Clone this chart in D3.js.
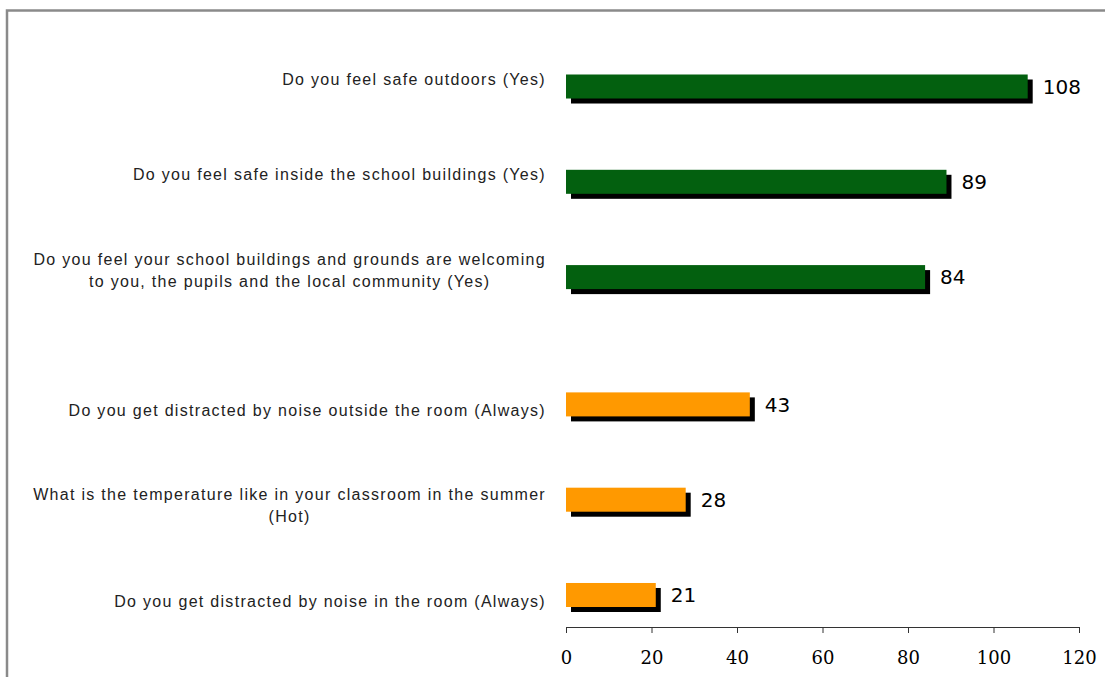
<!DOCTYPE html>
<html>
<head>
<meta charset="utf-8">
<script src="https://cdn.jsdelivr.net/npm/d3@7"></script>
<style>
  html, body { margin: 0; padding: 0; background: #fff; }
  svg { display: block; }
</style>
</head>
<body>
<svg id="chart" width="1105" height="677"></svg>
<script>
// Survey questions (line breaks mark where long labels wrap)
const categories = [
  "Do you feel safe outdoors (Yes)",
  "Do you feel safe inside the school buildings (Yes)",
  "Do you feel your school buildings and grounds are welcoming\nto you, the pupils and the local community (Yes)",
  "Do you get distracted by noise outside the room (Always)",
  "What is the temperature like in your classroom in the summer\n(Hot)",
  "Do you get distracted by noise in the room (Always)"
];
// Number of pupils giving the stated answer
const values = [108, 89, 84, 43, 28, 21];
// 0 = positive aspects, 1 = problems
const groups = [0, 0, 0, 1, 1, 1];
const groupColors = ["#03600F", "#FF9900"];
const xTicks = [0, 20, 40, 60, 80, 100, 120];

const svg = d3.select("#chart");
const W = 1105, H = 677;

// Frame (top and left edges)
svg.append("path")
  .attr("d", `M7,${H} L7,10.5 L${W},10.5`)
  .attr("fill", "none")
  .attr("stroke", "#8a8a8a")
  .attr("stroke-width", 2.5);

const x = d3.scaleLinear().domain([0, 120]).range([566, 1079]);

const groupGap = 32;
const y = d3.scaleBand()
  .domain(categories)
  .range([74.5, 575])
  .paddingInner(0.748)
  .paddingOuter(0);

const bw = y.bandwidth();
const barTop = (c, i) => y(c) + (groups[i] ? groupGap : 0);
const labelShift = [-7, 6];
const shadow = 5;

const data = categories.map((c, i) => ({ c, v: values[i], g: groups[i], i }));

// Drop shadows
svg.append("g").selectAll("rect")
  .data(data).join("rect")
  .attr("x", x(0) + shadow)
  .attr("y", d => barTop(d.c, d.i) + shadow)
  .attr("width", d => x(d.v) - x(0))
  .attr("height", bw)
  .attr("fill", "#000");

// Bars
svg.append("g").selectAll("rect")
  .data(data).join("rect")
  .attr("x", x(0))
  .attr("y", d => barTop(d.c, d.i))
  .attr("width", d => x(d.v) - x(0))
  .attr("height", bw)
  .attr("fill", d => groupColors[d.g]);

// Value labels
svg.append("g").selectAll("text")
  .data(data).join("text")
  .attr("x", d => x(d.v) + shadow + 10)
  .attr("y", d => barTop(d.c, d.i) + bw / 2)
  .attr("dy", "0.36em")
  .attr("font-family", "'DejaVu Sans', Verdana, sans-serif")
  .attr("font-size", 20)
  .attr("fill", "#000")
  .text(d => d.v);

// Category labels: centred block whose right edge sits left of the axis
const labelRight = 546;
const lineH = 22;
const lg = svg.append("g")
  .attr("font-family", "'Liberation Sans', Arial, sans-serif")
  .attr("font-size", 16)
  .attr("letter-spacing", "1.3px")
  .attr("fill", "#222");

data.forEach(d => {
  const lines = d.c.split("\n");
  const t = lg.append("text").attr("text-anchor", "middle");
  const cy = barTop(d.c, d.i) + bw / 2 + labelShift[d.g];
  const spans = lines.map((ln, k) =>
    t.append("tspan")
      .attr("y", cy + (k - (lines.length - 1) / 2) * lineH)
      .attr("dy", "0.35em")
      .text(ln));
  const maxW = d3.max(spans, s => s.node().getComputedTextLength());
  spans.forEach(s => s.attr("x", labelRight - maxW / 2));
});

// Value axis
const axisY = 627;
const axis = svg.append("g")
  .attr("transform", `translate(0,${axisY})`)
  .call(d3.axisBottom(x).tickValues(xTicks).tickSize(6).tickSizeOuter(0).tickPadding(18));
axis.select(".domain").attr("stroke", "#333");
axis.selectAll(".tick line").attr("stroke", "#333");
axis.selectAll(".tick text")
  .attr("font-family", "'DejaVu Serif', serif")
  .attr("font-size", 18)
  .attr("fill", "#000");
</script>
</body>
</html>
